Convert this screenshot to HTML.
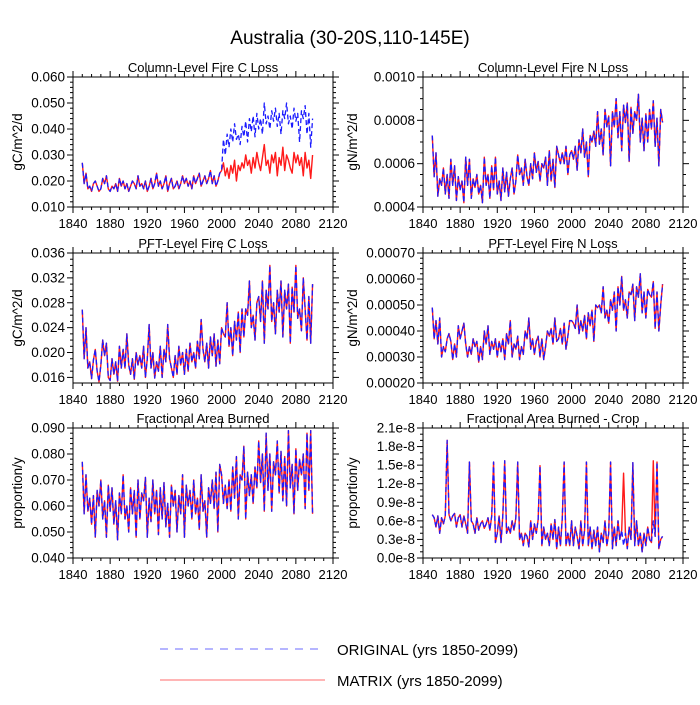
<!DOCTYPE html>
<html><head><meta charset="utf-8"><style>
html,body{margin:0;padding:0;background:#fff;}
svg text{font-family:"Liberation Sans",sans-serif;fill:#000;}
</style></head><body>
<svg id="chart" width="700" height="700" viewBox="0 0 700 700" xmlns="http://www.w3.org/2000/svg">
<text x="350" y="44" font-size="19" text-anchor="middle">Australia (30-20S,110-145E)</text>
<g>
<line x1="160" y1="649" x2="318" y2="649" stroke="#6b6bff" stroke-width="1" stroke-dasharray="8,7"/>
<text x="337" y="655" font-size="15">ORIGINAL (yrs 1850-2099)</text>
<line x1="160" y1="680" x2="325" y2="680" stroke="#ff6b6b" stroke-width="1"/>
<text x="337" y="686" font-size="15">MATRIX (yrs 1850-2099)</text>
</g>
</svg>
<script>
// years: 1850..2098 every 2 years (125 points)
const startYear = 1850, yearStep = 2;
// Column-level fire C loss (units 1e-3 gC/m^2/d)
const colC = [27,19,23,17,18,16,19,20,18,16,17,21,19,22,17,16,18,17,19,16,
21,18,20,17,19,16,18,20,19,17,22,18,19,17,20,16,18,21,17,19,
23,18,20,17,19,22,16,19,21,17,18,20,17,19,22,19,21,18,20,17,
22,19,21,23,18,20,22,19,21,24,19,22,18,20,23,
24,36,30,38,33,40,35,42,36,38,34,41,37,43,35,44,39,45,37,46,40,44,38,50,42,45,40,47,43,48,41,46,38,47,44,50,42,45,40,48,43,46,35,47,44,49,38,46,33,44];
const colCMatrixPost2000 = [24,27,22,25,21,26,23,28,20,26,24,27,25,30,26,28,23,29,25,31,27,24,29,34,26,28,23,30,27,31,22,29,26,33,24,30,28,25,23,31,27,30,26,29,22,31,25,28,21,30];
// Column-level fire N loss (units 1e-4)
const colN = [7.3,5.4,6.5,4.5,5.3,5.0,5.8,4.6,5.5,4.4,6.2,5.0,5.9,4.3,5.4,4.8,5.2,4.2,6.3,5.0,
6.2,4.4,5.3,4.9,5.5,4.6,5.0,4.2,6.3,5.0,5.5,4.4,5.9,4.8,6.3,4.6,5.2,4.3,5.8,4.7,
5.6,4.5,5.3,5.8,4.6,5.2,6.4,5.5,5.8,5.0,6.2,5.4,5.0,6.0,5.3,6.5,5.6,6.1,5.2,6.0,
5.8,6.3,5.0,6.6,5.2,6.2,4.9,6.8,6.4,6.0,6.5,6.0,6.8,5.5,6.4,
6.6,6.2,6.8,5.7,7.1,6.5,7.6,6.3,7.0,5.4,7.3,7.0,7.5,6.8,8.4,6.9,7.6,6.4,8.5,7.7,
8.2,5.9,8.4,7.7,9.0,7.2,8.4,6.6,8.7,7.9,8.8,6.1,8.6,7.4,8.4,8.0,9.2,7.0,8.1,6.6,
8.3,7.0,8.5,7.6,8.9,6.8,8.1,5.9,8.5,7.9];
// PFT-level fire C loss (units 1e-3)
const pftC = [26.9,19,24,17.5,18.5,15.8,18.8,20.5,17,15.3,18,22,19.5,21.5,16,15.5,19,16.5,18.5,15.4,
21,17.5,20.5,17.5,23,18,16.5,19,15.7,20,18,19.5,17.5,21,16,19,24.5,17.5,20,15.9,
18.5,17,21,16,20.5,18.5,24.5,19,17.5,16,19.5,16.5,21,18,20,16.5,20.5,17,21.5,18.5,
20,17.5,21.8,19,25.3,20.5,18.5,21.5,17.5,22.5,19.5,23,17.8,22,18.2,
24,23,22.5,28,21,24,19.5,25,22,26.5,20,27,22.5,27,26,31.5,24,26,22,28,
29,25,31.5,21.5,30,27,34,25,28,23,30,26.5,31.5,22.5,30,27,31,21.5,30.5,26.5,
34,25.5,27,23.5,32,27,22,29,21.5,31];
// PFT-level fire N loss (units 1e-5)
const pftN = [49,37,44,35,45,30,34,32,37,39,36,29,35,30,42,37,40,43,35,30,
34,31,37,34,36,28,34,29,40,35,42,31,36,33,37,30,36,32,37,29,
39,35,44,30,35,33,38,29,34,31,40,37,45,33,37,31,36,38,30,37,
29,34,40,38,41,35,45,36,37,41,35,43,33,38,44,
44,43,41,50,39,44,40,46,37,47,42,48,36,50,49,50,47,57,45,48,
43,52,48,55,40,57,50,61,48,52,45,55,54,58,44,57,53,62,47,55,
45,56,54,53,59,41,55,40,50,58];
// Fractional area burned (units 1e-3)
const frac = [77,57,72,58,63,53,64,48,66,60,70,55,62,48,68,58,67,53,62,47,
65,57,72,55,60,50,67,57,66,48,70,55,65,62,71,48,63,54,70,57,
66,49,67,55,69,52,61,48,68,60,66,50,64,57,72,48,68,60,66,55,
70,57,63,51,72,58,62,48,67,61,70,59,73,50,76,
72,61,68,59,70,58,75,63,79,55,72,70,83,55,73,64,72,61,75,67,
85,69,80,58,88,66,80,58,77,72,85,65,81,62,79,60,89,67,76,57,
82,66,78,72,80,59,88,66,89,57];
// Fractional area burned - crop (units 1e-9)
const crop = [7,6.5,5,6.8,4,6.5,5.5,6.8,19,7,
6,6.8,7.2,5,6.5,7,5,6.8,5.5,4,
15.5,6,5.5,4,6.5,4.5,5.5,6,4.8,5.5,
6.5,4.5,6.8,15.5,2.5,4,6.8,2.5,7,15.7,
4,5,4,6,4.5,6.5,15.5,3,4,2,
4,3.5,1.8,6,3,5.5,4,6.2,14.9,2,
5,3,4,2,5.5,3,6.2,1.5,5,2,
6.5,15.5,2,4,2,
6,2,5,3.5,1.5,6,2,4.5,15.5,2,
5,1.5,4.5,2,5,1,4,2.5,6,2,
4,15.5,1.5,5,2,6,3,4.5,2,4,
1.5,5,3,15.4,2,6,2,4,1,4,
2,5,3,2.5,6,3.5,15.5,1.5,3,3.5];
const cropMatrixYears = [2056, 2088];
const cropMatrixValues = [13.7, 15.7];
const xTicks = [1840,1880,1920,1960,2000,2040,2080,2120];

const colCMatrix = colC.slice(0,75).concat(colCMatrixPost2000);
const cropMatrix = crop.slice();
cropMatrixYears.forEach((y,k)=>{ cropMatrix[(y-startYear)/yearStep] = cropMatrixValues[k]; });

const panels = [
 {name:'column-fire-c-loss', title:'Column-Level Fire C Loss', ylab:'gC/m^2/d', x0:73, y0:77, labOff:51, orig:colC, mat:colCMatrix, scale:1e-3, ymin:0.010, ymax:0.060, step:0.010, minor:5, fmt:v=>v.toFixed(3)},
 {name:'column-fire-n-loss', title:'Column-Level Fire N Loss', ylab:'gN/m^2/d', x0:423, y0:77, labOff:66, orig:colN, mat:colN, scale:1e-4, ymin:0.0004, ymax:0.0010, step:0.0002, minor:4, fmt:v=>v.toFixed(4)},
 {name:'pft-fire-c-loss', title:'PFT-Level Fire C Loss', ylab:'gC/m^2/d', x0:73, y0:253, labOff:51, orig:pftC, mat:pftC, scale:1e-3, ymin:0.0151, ymax:0.036, step:0.004, minor:4, tickStart:0.016, fmt:v=>v.toFixed(3)},
 {name:'pft-fire-n-loss', title:'PFT-Level Fire N Loss', ylab:'gN/m^2/d', x0:423, y0:253, labOff:66, orig:pftN, mat:pftN, scale:1e-5, ymin:0.0002, ymax:0.0007, step:0.0001, minor:5, fmt:v=>v.toFixed(5)},
 {name:'fractional-area-burned', title:'Fractional Area Burned', ylab:'proportion/y', x0:73, y0:428, labOff:51, orig:frac, mat:frac, scale:1e-3, ymin:0.040, ymax:0.090, step:0.010, minor:5, fmt:v=>v.toFixed(3)},
 {name:'fractional-area-burned-crop', title:'Fractional Area Burned - Crop', ylab:'proportion/y', x0:423, y0:428, labOff:66, orig:crop, mat:cropMatrix, scale:1e-9, ymin:0, ymax:2.1e-8, step:0.3e-8, minor:3, fmt:v=>(v*1e8).toFixed(1)+'e-8'}
];
const W=260, H=130;
const svg = document.getElementById('chart');
const NS='http://www.w3.org/2000/svg';
function mk(tag, attrs, parent){const e=document.createElementNS(NS,tag);for(const k in attrs)e.setAttribute(k,attrs[k]);(parent||svg).appendChild(e);return e;}

panels.forEach(p=>{
  const g = mk('g',{});
  
  
  const xs = y => p.x0 + (y-1840)/(2120-1840)*W;
  const ys = v => p.y0 + H - (v-p.ymin)/(p.ymax-p.ymin)*H;
  const t = mk('text',{x:p.x0+W/2,y:p.y0-5,'font-size':13,'text-anchor':'middle'},g);
  t.textContent = p.title;
  
  
  const yl = mk('text',{x:0,y:0,'font-size':13.5,'text-anchor':'middle',transform:`translate(${p.x0-p.labOff},${p.y0+H/2}) rotate(-90)`},g);
  yl.textContent = p.ylab;
  
  
  const pts = arr => arr.map((v,i)=>xs(startYear+i*yearStep).toFixed(2)+','+ys(v*p.scale).toFixed(2)).join(' ');
  const red = mk('polyline',{points:pts(p.mat),fill:'none',stroke:'#ff1a1a','stroke-width':1.4,'stroke-linejoin':'round'},g);
  
  
  const blue = mk('polyline',{points:pts(p.orig),fill:'none',stroke:'#1a1aff','stroke-width':1.3,'stroke-dasharray':'5,3','stroke-linejoin':'round'},g);
  
  
  const fr = mk('rect',{x:p.x0,y:p.y0,width:W,height:H,fill:'none',stroke:'#000','stroke-width':1},g);
  
  
  for(let y=1840;y<=2120;y+=10){
    const x=xs(y), L=(y%40===0)?6:3;
    mk('line',{x1:x,y1:p.y0+H,x2:x,y2:p.y0+H+L,stroke:'#000','stroke-width':1},g);
    mk('line',{x1:x,y1:p.y0,x2:x,y2:p.y0-L,stroke:'#000','stroke-width':1},g);
  }
  xTicks.forEach(y=>{
    const tl = mk('text',{x:xs(y),y:p.y0+H+21,'font-size':13,'text-anchor':'middle'},g);
    tl.textContent = y;
    
    
  });
  const start = p.tickStart!==undefined?p.tickStart:p.ymin;
  const ms = p.step/p.minor;
  for(let v=start - Math.floor((start-p.ymin)/ms+1e-9)*ms; v<=p.ymax+1e-12; v+=ms){
    const k = Math.round((v-start)/ms);
    const major = k>=0 && k%p.minor===0;
    const y=ys(v), L=major?6:3;
    mk('line',{x1:p.x0,y1:y,x2:p.x0-L,y2:y,stroke:'#000','stroke-width':1},g);
    mk('line',{x1:p.x0+W,y1:y,x2:p.x0+W+L,y2:y,stroke:'#000','stroke-width':1},g);
    if(major){
      const tl = mk('text',{x:p.x0-8,y:y+4.5,'font-size':13.5,'text-anchor':'end'},g);
      tl.textContent = p.fmt(v);
      
      
    }
  }
});
</script>
</body></html>
